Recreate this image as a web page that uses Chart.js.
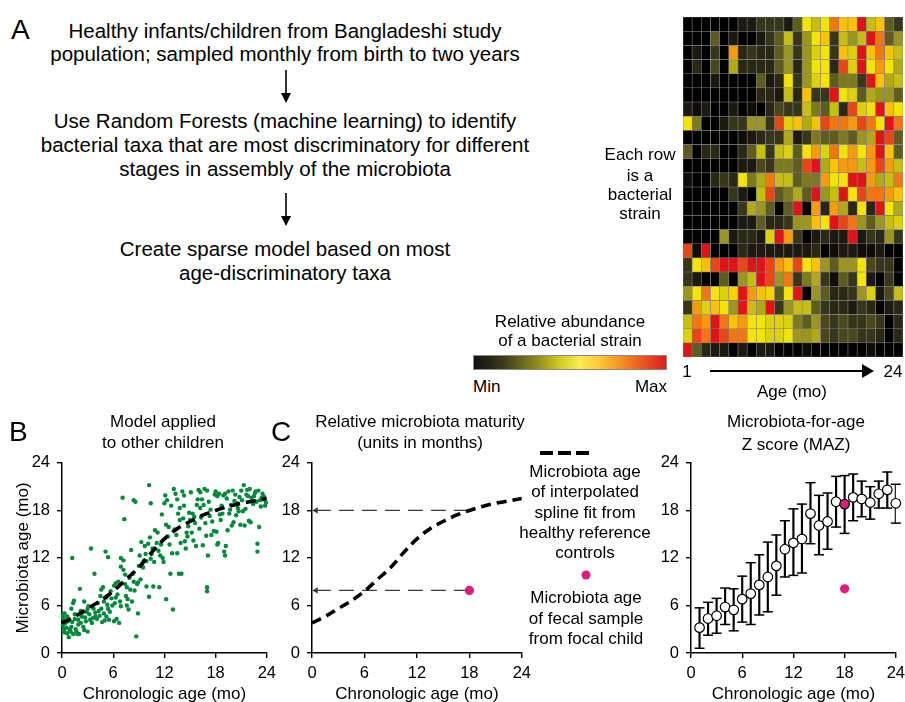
<!DOCTYPE html>
<html>
<head>
<meta charset="utf-8">
<script src="https://cdn.jsdelivr.net/npm/chart.js@4.4.1/dist/chart.umd.min.js"></script>
<style>
  html, body { margin: 0; padding: 0; background: #fff; }
  body { width: 905px; height: 702px; position: relative; overflow: hidden;
         font-family: "Liberation Sans", Arial, sans-serif; color: #000; }
  .t { position: absolute; white-space: nowrap; text-align: center; }
  canvas, svg { position: absolute; }
  #colorbar { position: absolute; left: 473px; top: 355px; width: 192px; height: 13px;
    border: 1px solid #8a8a8a;
    background: linear-gradient(to right, #111 0%, #3c3a1a 15%, #8a8620 32%, #d0c820 44%, #f8ec50 55%, #fbc838 65%, #f28a22 78%, #e01a1e 100%); }
</style>
</head>
<body>
<div id="colorbar"></div>
<svg style="left:276px;top:68px" width="20" height="38"><line x1="10" y1="2" x2="10" y2="28" stroke="#000" stroke-width="1.6"/><polygon points="5,25 15,25 10,35" fill="#000"/></svg>
<svg style="left:276px;top:191px" width="20" height="38"><line x1="10" y1="2" x2="10" y2="28" stroke="#000" stroke-width="1.6"/><polygon points="5,25 15,25 10,35" fill="#000"/></svg>
<svg style="left:705px;top:362px" width="180" height="18"><line x1="5" y1="9" x2="160" y2="9" stroke="#000" stroke-width="2"/><polygon points="157,2 169,9 157,16" fill="#000"/></svg>
<svg style="left:538px;top:447px" width="56" height="12"><line x1="2" y1="6" x2="52" y2="6" stroke="#000" stroke-width="4" stroke-dasharray="13 5"/></svg>
<svg style="left:580px;top:569px" width="12" height="12"><circle cx="6" cy="6" r="4.5" fill="#e2197f"/></svg>

<canvas id="heat" width="220" height="340" style="left:683px;top:17px"></canvas>
<canvas id="panelB" width="282" height="260" style="left:0px;top:446px"></canvas>
<canvas id="panelC" width="265" height="260" style="left:272px;top:446px"></canvas>
<canvas id="panelMAZ" width="261" height="260" style="left:650px;top:446px"></canvas>

<script>
(function () {
    'use strict';

    // heatmap: 24 strains (rows, top to bottom) x 24 monthly samples, abundance level 0 (min) .. 9 (max)
    const sampleMonths = ['1','2','3','4','5','6','7','8','9','10','11','12','13','14','15','16','17','18','19','20','21','22','23','24'];
    const strainAbundance = [
        [0,0,0,0,0,0,1,1,2,2,2,1, 3,6,5,6,8,7,7,9,5,7,3,2],
        [0,0,0,3,0,1,0,0,1,2,3,5, 2,4,6,7,2,5,4,5,9,8,3,4],
        [0,1,0,2,0,7.5,1.5,2,1.5,1.5,3,4, 2,4,5.5,6,2,7,5.5,9,7,8,7,5],
        [0,1.5,0,2.5,0,4.5,1.5,1.5,1.5,1.5,3,4, 1.5,4,6,6,1.5,8.5,5.5,9,6,7.5,6,4.5],
        [0,0,0,1,0,0,0,0,3,1,1.5,6, 2,4,5.5,6,3,3.5,3.5,2,9,7,4.5,5],
        [0,0,0,0,0,0,0,0,1.5,1.5,1,5, 1.5,7,2,2,9,6,5.5,3,4.5,4,4,3],
        [1,0.5,1,0,0,1,0,0.5,0,1.5,2.5,2, 2,5,3.5,3,5,1.5,8.5,5.5,6,9,7,6],
        [6,3.5,0,0,1,2,2,4,4,2,8.5,5.5, 7,4.5,7,8.5,8,8,7.5,8.5,8,6,9,8],
        [0,0,0,0,0,0,0.5,1,1.5,2,2,4.5, 1,2,3.5,3,3,3.5,3,4,4.5,9,8.5,3],
        [3,0,1.5,1.5,0,0,1.5,3,5,2,5,5.5, 3,6,7.5,5.5,8,6,7.5,6,7.5,9,7,3],
        [0,0,0,0,0,0,1,1,2.5,2,3.5,3.5, 3,8.5,9,4.5,7,7.5,7.5,5,7.5,8.5,7.5,5],
        [0.5,0,0,1.5,2,1.5,6,3.5,4.5,8,5,5, 3,3.5,3.5,7.5,6,6,9,9,7.5,4.5,5,8],
        [0,0,0,0,0,2,1,0,5,8.5,3,3.5, 4.5,3,9,4,5,9,6,8.5,8,8,7.5,7],
        [0,0,0,0,0,0,2,4.5,4,3,0,3, 9,0,7.5,1.5,7.5,4.5,1.5,6,1.5,9,6,4.5],
        [0,0,0,0,0,0,1,1,3,1.5,1.5,2, 4,4,7,6,9,8.5,8,4,3,4,5,5.5],
        [0,0,0,0,4,1,1.5,1.5,1,5.5,9,7.5, 2,0,1,1.5,1,1,9,1,2,1.5,4,2],
        [8.5,0.5,9,0,0,0,1.5,1,1,1,1,1, 1,1,1.5,0,0.5,1,1,0.5,0.5,1,0,0],
        [2,6,7,8.5,9,9,8.5,9,9,8.5,7.5,7, 8.5,6,7,4,3,4,4,6,2.5,2,2,0],
        [2,1,0,0,3,0,4,5,9,8.5,4,8, 2,3.5,4.5,2,0.5,3,2,6,1,0,2,0],
        [4,6,8,6,5.5,6.5,9,7.5,7,6.5,3,6, 9,0,4,3,1.5,1.5,2,4,5.5,1,2.5,5],
        [2,7.5,5.5,7,6,4,9,5,4.5,9,2,4, 5,5,3,2,1.5,1.5,1,2,1.5,0,1,1.5],
        [5,8,7.5,9,8,7,7.5,6,6,5.5,5.5,5.5, 3.5,3,4,2.5,2,2.5,2,2,2.5,2,0,1.5],
        [5.5,8.5,8,9,8.5,8,8,6,6,5.5,5.5,6, 4,4,4.5,2.5,2,2.5,2.5,2,2,1.5,0,1.5],
        [9,3,1.5,1,1,0,1,0,1,1,0,0, 0,0.5,0,0,0,0,0,0,0.5,0,0,0]
    ];

    // healthy reference spline (microbiota age vs chronologic age)
    const splineAge      = [0, 1.5, 3, 4.5, 6, 7.5, 9, 10.5, 12, 13.5, 15, 16.5, 18, 19.5, 21, 22.5, 24];
    const splineMaturity = [3.8, 4.6, 5.6, 6.6, 7.8, 9.3, 10.8, 12.7, 14.4, 15.7, 16.6, 17.4, 18.0, 18.5, 18.9, 19.2, 19.5];

    // panel B: other children
    const otherChildAge = [
        0.1,0.1,0.2,0.1,0.2,0.3,0.5,0.3,0.6,0.8,0.4,0.9,0.7,0.2,0.6,
        1.2,1.1,1.3,1.4,1.2,1.5,1.0,1.3,1.6,1.8,1.9,1.7,1.5,1.1,2.0,1.9,
        2.1,2.2,2.4,2.6,2.3,2.8,2.5,2.7,2.9,2.6,3.0,3.0,2.2,
        3.4,3.1,3.3,3.6,3.5,3.8,3.9,3.7,3.2,3.9,
        4.2,4.4,4.6,4.8,4.5,4.9,4.7,4.3,4.1,4.9,4.6,
        5.1,5.4,5.2,5.3,5.0,5.5,5.6,5.8,5.7,5.9,5.4,5.2,
        6.1,6.3,6.2,6.4,6.1,6.5,6.6,6.8,6.9,6.7,6.9,6.9,6.3,
        7.1,7.3,7.2,7.4,7.6,7.5,7.7,7.8,7.2,7.9,7.6,7.4,
        8.4,8.6,8.1,8.3,8.5,8.8,8.7,8.2,8.9,8.4,8.9,8.0,
        9.3,9.1,9.4,9.6,9.8,9.5,9.9,9.2,9.7,9.0,9.9,
        10.2,10.4,10.1,10.3,10.6,10.5,10.8,10.2,10.7,10.9,10.4,
        11.2,11.3,11.5,11.8,11.6,11.9,11.4,11.7,11.1,
        12.0,12.1,12.3,12.2,12.4,12.6,12.2,12.5,12.8,12.9,12.7,
        13.1,13.3,13.5,13.2,13.4,13.0,13.6,13.8,13.9,13.7,13.5,13.8,
        14.1,14.3,14.2,14.4,14.5,14.0,14.6,14.8,14.9,14.3,14.7,
        15.1,15.3,15.5,15.2,15.4,15.6,15.8,15.9,15.7,15.0,
        16.0,16.2,16.4,16.6,16.3,16.1,16.8,16.9,16.5,16.7,16.2,
        17.0,17.2,17.1,17.0,17.0,17.4,17.6,17.8,17.5,17.3,17.9,
        18.0,18.2,18.4,18.1,18.3,18.5,18.7,18.6,18.9,18.2,18.8,
        19.1,19.3,19.0,19.2,19.4,19.6,19.8,19.5,19.9,19.7,19.1,
        20.0,20.2,20.4,20.6,20.1,20.3,20.8,20.9,20.5,20.7,
        21.0,21.3,21.1,21.5,21.7,21.4,21.8,21.9,21.2,21.6,
        22.0,22.2,22.4,22.1,22.6,22.8,22.9,22.9,22.5,22.7,
        23.0,23.2,23.4,23.1,23.6,23.8,23.9,23.5,23.7,23.3
    ];
    const otherChildMicrobiotaAge = [
        4.9,4.5,4.2,3.5,3.0,2.6,3.2,5.0,4.6,2.0,3.8,3.0,4.0,2.8,2.5,
        12.0,5.6,6.3,6.6,3.9,4.3,2.7,2.4,3.0,2.4,3.6,2.7,4.9,3.3,2.4,4.2,
        8.1,5.3,5.1,6.5,4.6,4.0,3.3,4.5,5.2,2.9,2.7,5.6,3.8,
        13.2,5.9,4.2,4.4,3.8,10.0,5.1,5.6,4.9,4.6,
        6.3,4.7,5.6,8.3,7.2,6.5,3.9,5.3,4.3,5.0,8.0,
        12.8,12.1,7.0,6.1,4.1,4.2,5.2,6.9,7.8,6.0,5.6,4.6,
        8.5,8.8,6.3,4.3,4.0,7.4,9.0,6.5,5.9,3.8,10.9,12.0,7.0,
        19.6,16.9,10.5,9.9,8.3,7.2,6.8,5.5,11.7,9.5,6.0,8.7,
        19.3,19.1,13.0,10.0,7.9,8.7,2.1,6.5,8.9,9.0,5.0,8.0,
        14.0,12.3,11.3,11.7,12.5,10.8,8.4,9.3,13.5,11.0,11.6,
        21.2,18.9,13.8,14.6,13.2,12.5,11.5,7.1,8.4,15.5,11.9,
        15.2,12.9,12.3,12.0,13.7,11.5,8.3,17.5,13.9,
        18.9,19.9,19.3,16.2,14.7,13.7,6.8,15.9,18.6,12.6,10.0,
        20.7,20.1,19.4,15.6,14.9,5.5,17.6,16.8,13.9,10.0,12.6,18.3,
        20.4,19.9,17.0,14.1,13.2,10.0,15.2,16.0,17.7,18.6,14.7,
        20.3,17.6,17.2,15.2,14.2,16.4,18.7,19.4,13.5,16.8,
        20.6,20.3,19.4,18.7,17.1,15.7,16.4,14.8,13.6,20.7,18.3,
        20.5,19.1,12.3,8.3,7.8,18.1,16.6,15.4,14.9,17.3,20.0,
        20.4,19.8,20.1,15.3,13.9,17.5,18.6,16.8,19.9,13.7,17.6,
        20.1,19.5,12.8,13.5,15.5,17.6,18.7,20.4,16.1,18.1,12.3,
        20.5,19.2,17.4,18.3,16.5,20.0,19.7,16.2,18.9,17.9,
        20.5,21.2,19.3,18.2,20.6,16.1,19.8,16.7,17.9,20.0,
        20.7,19.6,18.8,16.5,20.2,19.1,12.8,13.8,19.8,20.4,
        20.5,19.3,19.6,15.9,19.4,18.6,19.0,20.1,19.7,18.5
    ];

    // panel C: focal child
    const focalChildAge = 18;
    const focalMicrobiotaAge = 7.9;
    const focalReferenceAge = 18;

    // microbiota-for-age Z score panel
    const mazMonths = [1,2,3,4,5,6,7,8,9,10,11,12,13,14,15,16,17,18,19,20,21,22,23,24];
    const mazMean = [3.2,4.35,4.7,5.8,5.45,6.8,7.5,8.6,9.6,11.0,13.1,13.9,14.4,17.6,16.1,16.6,19.1,18.8,19.65,19.45,19.0,20.1,20.6,18.9];
    const mazHigh = [5.7,6.4,6.9,8.2,8.1,9.7,11.4,12.4,14.0,14.9,16.7,18.2,18.8,21.5,19.9,20.2,22.3,22.4,22.6,21.7,21.0,21.7,22.85,21.3];
    const mazLow  = [0.6,2.25,2.5,3.6,2.8,3.9,3.6,4.8,5.2,7.3,9.6,9.8,10.1,13.8,12.4,13.1,15.9,15.1,16.7,17.2,16.9,18.3,18.3,16.4];
    const focalMaz = 8.1;

    const PINK = '#e2197f';
    const GREEN = '#00893b';

    // ---------- text ----------
    function addText(text, x, y, size, align) {
        const d = document.createElement('div');
        d.className = 't';
        d.textContent = text;
        d.style.fontSize = size + 'px';
        d.style.lineHeight = (size * 1.2) + 'px';
        d.style.top = (y - size * 0.65) + 'px';
        if (align === 'left') {
            d.style.left = x + 'px';
            d.style.textAlign = 'left';
        } else if (align === 'right') {
            d.style.left = (x - 400) + 'px';
            d.style.width = '400px';
            d.style.textAlign = 'right';
        } else {
            d.style.left = (x - 300) + 'px';
            d.style.width = '600px';
        }
        document.body.appendChild(d);
    }

    addText('A', 11, 31, 28, 'left');
    addText('B', 9, 433, 28, 'left');
    addText('C', 271, 433, 28, 'left');

    addText('Healthy infants/children from Bangladeshi study', 285, 32, 20.5);
    addText('population; sampled monthly from birth to two years', 285, 55, 20.5);
    addText('Use Random Forests (machine learning) to identify', 285, 122, 20.5);
    addText('bacterial taxa that are most discriminatory for different', 285, 146, 20.5);
    addText('stages in assembly of the microbiota', 285, 170, 20.5);
    addText('Create sparse model based on most', 285, 250, 20.5);
    addText('age-discriminatory taxa', 285, 274, 20.5);

    addText('Each row', 640, 156, 17);
    addText('is a', 640, 177, 17);
    addText('bacterial', 640, 196, 17);
    addText('strain', 640, 215, 17);

    addText('Relative abundance', 570, 323, 17);
    addText('of a bacterial strain', 570, 342, 17);
    addText('Min', 473, 388, 17, 'left');
    addText('Max', 667, 388, 17, 'right');
    addText('1', 687, 373, 17);
    addText('24', 893, 373, 17);
    addText('Age (mo)', 792, 393, 17);

    addText('Model applied', 163, 423, 17);
    addText('to other children', 163, 444, 17);
    addText('Relative microbiota maturity', 420, 423, 17);
    addText('(units in months)', 420, 444, 17);
    addText('Microbiota-for-age', 796, 423, 17);
    addText('Z score (MAZ)', 796, 446, 17);

    addText('Microbiota age', 585, 473, 17);
    addText('of interpolated', 585, 493, 17);
    addText('spline fit from', 585, 514, 17);
    addText('healthy reference', 585, 534, 17);
    addText('controls', 585, 554, 17);
    addText('Microbiota age', 586, 599, 17);
    addText('of fecal sample', 586, 620, 17);
    addText('from focal child', 586, 640, 17);

    // ---------- chart defaults ----------
    Chart.defaults.font.family = '"Liberation Sans", Arial, sans-serif';
    Chart.defaults.color = '#000';
    Chart.defaults.animation = false;
    Chart.defaults.plugins.legend.display = false;
    Chart.defaults.plugins.tooltip.enabled = false;

    // heatmap colour scale
    const levelColors = ['#000000','#1c1a10','#38361a','#5e5c1e','#9a9620','#c6be12','#f4e404','#fcc004','#f07814','#e01418'];
    function hex(c) { return [1, 3, 5].map((i) => parseInt(c.substr(i, 2), 16)); }
    function levelColor(v) {
        const i = Math.min(Math.floor(v), 9);
        const f = v - i;
        if (f <= 0 || i >= 9) return levelColors[i];
        const a = hex(levelColors[i]), b = hex(levelColors[i + 1]);
        const m = a.map((x, k) => Math.round(x + (b[k] - x) * f));
        return `rgb(${m[0]},${m[1]},${m[2]})`;
    }

    new Chart(document.getElementById('heat'), {
        type: 'bar',
        data: {
            labels: sampleMonths,
            datasets: strainAbundance.map((row) => ({
                data: row.map(() => 1),
                backgroundColor: row.map(levelColor),
                borderColor: '#808080',
                borderWidth: 0.6,
                borderSkipped: false,
                barPercentage: 1,
                categoryPercentage: 1,
            })),
        },
        options: {
            responsive: false,
            layout: { padding: 0 },
            scales: {
                x: { stacked: true, display: false },
                y: { stacked: true, display: false, min: 0, max: 24, reverse: true },
            },
        },
    });

    function ageAxis(isX, titleText, fit) {
        return {
            type: 'linear',
            min: 0,
            max: 24,
            offset: false,
            ticks: { stepSize: 6, color: '#000', font: { size: 16.5 }, padding: isX ? 6 : 7, maxRotation: 0 },
            grid: { offset: false, drawOnChartArea: false, color: '#000', tickColor: '#000', lineWidth: 1.4, tickWidth: 1.4, tickLength: 5 },
            border: { color: '#000', width: 1.5 },
            title: {
                display: !!titleText,
                text: titleText || '',
                color: '#000',
                font: { size: 17 },
                padding: isX ? { top: 0, bottom: 1 } : { top: 5, bottom: 0 },
            },
            afterFit(scale) {
                if (isX) scale.height = fit; else scale.width = fit;
            },
        };
    }

    const splinePoints = splineAge.map((x, i) => ({ x, y: splineMaturity[i] }));
    const splineDataset = {
        type: 'line',
        data: splinePoints,
        borderColor: '#000',
        borderWidth: 3.6,
        borderDash: [10, 6],
        pointRadius: 0,
        cubicInterpolationMode: 'monotone',
        fill: false,
    };

    // ---------- panel B ----------
    new Chart(document.getElementById('panelB'), {
        type: 'scatter',
        data: {
            datasets: [
                splineDataset,
                {
                    data: otherChildAge.map((x, i) => ({ x, y: otherChildMicrobiotaAge[i] })),
                    backgroundColor: GREEN,
                    borderWidth: 0,
                    pointRadius: 2.2,
                    clip: false,
                },
            ],
        },
        options: {
            responsive: false,
            layout: { padding: { left: 8, right: 0, top: 12, bottom: 0 } },
            scales: {
                x: ageAxis(true, 'Chronologic age (mo)', 53),
                y: ageAxis(false, 'Microbiota age (mo)', 54),
            },
        },
    });

    // ---------- panel C ----------
    const refLine = (yVal) => ({
        type: 'line',
        data: [{ x: 0.45, y: yVal }, { x: focalChildAge, y: yVal }],
        borderColor: '#3a3a3a',
        borderWidth: 1.3,
        borderDash: [15, 8],
        pointRadius: [3.6, 0],
        pointStyle: 'triangle',
        rotation: -90,
        pointBackgroundColor: '#3a3a3a',
        pointBorderWidth: 0,
        fill: false,
    });

    new Chart(document.getElementById('panelC'), {
        type: 'scatter',
        data: {
            datasets: [
                {
                    data: [{ x: focalChildAge, y: focalMicrobiotaAge }],
                    backgroundColor: PINK,
                    borderWidth: 0,
                    pointRadius: 4.6,
                    clip: false,
                },
                splineDataset,
                refLine(focalReferenceAge),
                refLine(focalMicrobiotaAge),
            ],
        },
        options: {
            responsive: false,
            layout: { padding: { left: 0, right: 0, top: 12, bottom: 0 } },
            scales: {
                x: ageAxis(true, 'Chronologic age (mo)', 53),
                y: ageAxis(false, '', 40),
            },
        },
    });

    // ---------- MAZ panel ----------
    new Chart(document.getElementById('panelMAZ'), {
        type: 'scatter',
        data: {
            datasets: [
                {
                    data: [{ x: focalChildAge, y: focalMaz }],
                    backgroundColor: PINK,
                    borderWidth: 0,
                    pointRadius: 4.6,
                },
                {
                    data: mazMonths.map((m, i) => ({ x: m, y: mazMean[i] })),
                    pointBackgroundColor: mazMonths.map((m) => (m === focalChildAge ? PINK : '#fff')),
                    pointBorderColor: '#000',
                    pointBorderWidth: 1.2,
                    pointRadius: 4.8,
                    clip: false,
                },
                {
                    data: mazMonths.map((m, i) => ({ x: m, y: mazHigh[i] })),
                    pointStyle: 'line',
                    pointRadius: 5,
                    pointBorderColor: '#000',
                    pointBorderWidth: 1.5,
                    clip: false,
                },
                {
                    data: mazMonths.map((m, i) => ({ x: m, y: mazLow[i] })),
                    pointStyle: 'line',
                    pointRadius: 5,
                    pointBorderColor: '#000',
                    pointBorderWidth: 1.5,
                    clip: false,
                },
                {
                    type: 'bar',
                    data: mazMonths.map((m, i) => ({ x: m, y: [mazLow[i], mazHigh[i]] })),
                    backgroundColor: '#000',
                    borderWidth: 0,
                    barThickness: 1.5,
                },
            ],
        },
        options: {
            responsive: false,
            layout: { padding: { left: 0, right: 0, top: 12, bottom: 0 } },
            scales: {
                x: ageAxis(true, 'Chronologic age (mo)', 53),
                y: ageAxis(false, '', 41),
            },
        },
    });
})();
</script>
</body>
</html>
